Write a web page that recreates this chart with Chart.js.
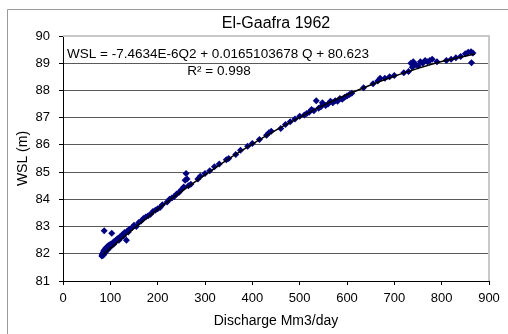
<!DOCTYPE html>
<html>
<head>
<meta charset="utf-8">
<script src="https://cdn.jsdelivr.net/npm/chart.js@4/dist/chart.umd.min.js"></script>
<style>
  html, body { margin: 0; padding: 0; background: #fff; }
  #wrap { width: 508px; height: 334px; position: relative; overflow: hidden; }
</style>
</head>
<body>
<div id="wrap"><canvas id="ratingChart" width="508" height="334"></canvas></div>
<script>
// Observed discharge (Mm3/day) and water surface level (m)
const dischargeQ = [82, 83, 84, 85, 85, 86, 87, 88, 88, 89, 90, 90, 91, 92, 93, 94, 95, 96, 97, 98,
  100, 100, 87, 103, 102, 105, 107, 108, 110, 112, 115, 118, 120, 122, 125, 128, 130, 134, 135, 138,
  140, 145, 150, 155, 160, 165, 170, 175, 180, 185, 190, 195, 200, 205, 210, 220, 225, 230, 235, 240,
  245, 250, 255, 258, 262, 260, 265, 270, 285, 290, 300, 310, 320, 330, 345, 350, 365, 375, 390, 400,
  415, 430, 435, 440, 460, 470, 480, 490, 500, 510, 515, 520, 525, 530, 535, 540, 545, 548, 555, 560,
  565, 570, 575, 580, 585, 590, 595, 600, 605, 610, 635, 655, 665, 670, 680, 690, 700, 720, 730, 735,
  738, 740, 745, 750, 755, 760, 765, 770, 775, 780, 790, 810, 820, 830, 840, 850, 856, 862, 866, 863];
const wslValues = [81.92, 81.97, 82.0, 81.95, 82.05, 82.1, 82.0, 82.08, 82.15, 82.05, 82.12, 82.2, 82.1, 82.18, 82.25, 82.15, 82.22, 82.3, 82.2, 82.28,
  82.25, 82.35, 82.85, 82.75, 82.3, 82.4, 82.35, 82.45, 82.42, 82.5, 82.55, 82.5, 82.62, 82.58, 82.7, 82.65, 82.78, 82.5, 82.82, 82.8,
  82.9, 82.95, 83.05, 83.0, 83.15, 83.2, 83.3, 83.35, 83.4, 83.45, 83.55, 83.6, 83.65, 83.7, 83.8, 83.9, 84.0, 84.05, 84.1, 84.2,
  84.25, 84.35, 84.45, 84.7, 84.75, 84.95, 84.5, 84.55, 84.75, 84.85, 84.95, 85.05, 85.2, 85.3, 85.45, 85.5, 85.65, 85.8, 85.95, 86.05,
  86.2, 86.35, 86.45, 86.5, 86.6, 86.75, 86.85, 86.95, 87.05, 87.1, 87.15, 87.2, 87.3, 87.25, 87.62, 87.35, 87.4, 87.55, 87.45, 87.5,
  87.6, 87.55, 87.62, 87.6, 87.7, 87.68, 87.75, 87.8, 87.85, 87.9, 88.1, 88.25, 88.35, 88.45, 88.45, 88.5, 88.55, 88.65, 88.7, 89.0,
  88.85, 89.05, 88.95, 88.9, 89.05, 89.0, 89.1, 89.05, 89.1, 89.15, 89.05, 89.1, 89.15, 89.2, 89.25, 89.35, 89.4, 89.42, 89.38, 89.02];

// Polynomial trendline
const trendQ = [85, 100, 150, 200, 250, 300, 350, 400, 450, 500, 550, 600, 650, 700, 750, 800, 870];
const trendWSL = [81.97, 82.20, 82.93, 83.63, 84.28, 84.90, 85.49, 86.03, 86.54, 87.01, 87.45, 87.84, 88.20, 88.52, 88.81, 89.06, 89.34];

const font = 'Liberation Sans, Arial, sans-serif';

// frame, plot border, title and trendline label
const decorPlugin = {
    id: 'decor',
    beforeDraw(chart) {
        const c = chart.ctx;
        c.save();
        c.fillStyle = '#fff';
        c.fillRect(0, 0, chart.width, chart.height);
        c.strokeStyle = '#9a9a9a';
        c.lineWidth = 1;
        c.beginPath();
        c.moveTo(7.5, chart.height);
        c.lineTo(7.5, 9.5);
        c.lineTo(chart.width, 9.5);
        c.stroke();
        c.restore();
    },
    afterDraw(chart) {
        const c = chart.ctx;
        const a = chart.chartArea;
        c.save();
        c.strokeStyle = '#c8c8c8';
        c.lineWidth = 2;
        c.beginPath();
        c.moveTo(a.left, a.top);
        c.lineTo(a.right, a.top);
        c.lineTo(a.right, a.bottom);
        c.stroke();

        c.fillStyle = '#000';
        c.textBaseline = 'middle';
        c.textAlign = 'center';
        c.font = '16px ' + font;
        c.fillText('El-Gaafra 1962', (a.left + a.right) / 2, 24);
        c.font = '13.5px ' + font;
        c.textAlign = 'left';
        c.fillText('WSL = -7.4634E-6Q2 + 0.0165103678 Q + 80.623', 67, 54);
        c.textAlign = 'center';
        c.fillText('R\u00b2 = 0.998', 219, 71);
        c.restore();
    }
};

const ctx = document.getElementById('ratingChart').getContext('2d');
const ratingChart = new Chart(ctx, {
    type: 'scatter',
    data: {
        datasets: [{
            label: 'Trend',
            type: 'line',
            data: trendQ.map((q, i) => ({ x: q, y: trendWSL[i] })),
            borderColor: '#000',
            borderWidth: 1.5,
            pointRadius: 0,
            fill: false,
            cubicInterpolationMode: 'monotone'
        }, {
            label: 'WSL',
            data: dischargeQ.map((q, i) => ({ x: q, y: wslValues[i] })),
            backgroundColor: '#000080',
            borderColor: '#000080',
            pointStyle: 'rectRot',
            pointRadius: 3.5,
            pointBorderWidth: 0
        }]
    },
    options: {
        responsive: false,
        animation: false,
        devicePixelRatio: 1,
        layout: { padding: { top: 36, right: 19, left: 0, bottom: 0 } },
        plugins: { legend: { display: false }, tooltip: { enabled: false } },
        scales: {
            x: {
                min: 0, max: 900,
                afterFit: s => { s.height = 53; },
                ticks: { stepSize: 100, color: '#000', font: { family: font, size: 13 }, padding: 6, maxRotation: 0 },
                grid: { drawOnChartArea: false, drawTicks: true, tickLength: 4, tickColor: '#000' },
                border: { color: '#000', width: 1 },
                title: { display: true, text: 'Discharge Mm3/day', color: '#000', font: { family: font, size: 14 }, padding: { top: 0, bottom: 4 } }
            },
            y: {
                min: 81, max: 90,
                afterFit: s => { s.width = 63; },
                ticks: { stepSize: 1, color: '#000', font: { family: font, size: 13 }, padding: 9 },
                grid: {
                    color: c => c.tick && c.tick.value === 90 ? 'rgba(0,0,0,0)' : '#5a5a5a',
                    tickLength: 4, tickColor: '#000'
                },
                border: { color: '#000', width: 1 },
                title: { display: true, text: 'WSL (m)', color: '#000', font: { family: font, size: 14 }, padding: { top: 15, bottom: 0 } }
            }
        }
    },
    plugins: [decorPlugin]
});
</script>
</body>
</html>
